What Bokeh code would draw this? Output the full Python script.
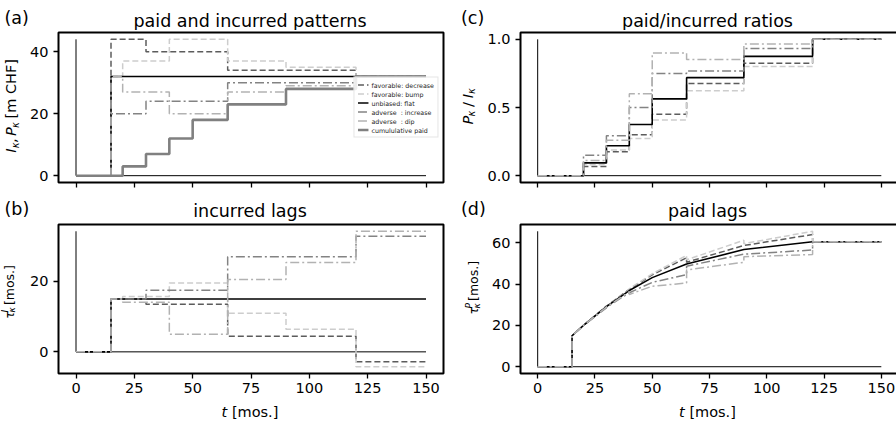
from math import pi, sin, cos
from bokeh.plotting import figure
from bokeh.models import (Range1d, FixedTicker, Label, NumeralTickFormatter,
                          CustomLabelingPolicy)
from bokeh.layouts import column, row
from bokeh.embed import file_html
from bokeh.resources import INLINE

FONT = "DejaVu Sans"

# ---------------- data ----------------
t_edges = [0, 15, 20, 30, 40, 50, 65, 90, 120, 150]   # interval edges [mos.]
x_ticks = [0, 25, 50, 75, 100, 125, 150]

series = ["decrease", "bump", "flat", "increase", "dip"]
legend_text = {
    "decrease": "favorable: decrease",
    "bump": "favorable: bump",
    "flat": "unbiased: flat",
    "increase": "adverse  : increase",
    "dip": "adverse  : dip",
}
paid_legend = "cumululative paid"

# incurred I_k per interval [m CHF]
incurred_decrease = [0, 44, 44, 40, 40, 40, 34, 34, 32]
incurred_bump     = [0, 32, 37, 37, 44, 44, 37, 35, 32]
incurred_flat     = [0, 32, 32, 32, 32, 32, 32, 32, 32]
incurred_increase = [0, 20, 20, 24, 24, 24, 30, 30, 32]
incurred_dip      = [0, 32, 27, 27, 20, 20, 27, 29, 32]
paid_cumulative   = [0, 0, 3, 7, 12, 18, 23, 28, 32]

# paid / incurred ratios per interval
ratio_decrease = [0, 0, 0.068, 0.175, 0.300, 0.450, 0.676, 0.824, 1.0]
ratio_bump     = [0, 0, 0.081, 0.189, 0.273, 0.409, 0.622, 0.800, 1.0]
ratio_flat     = [0, 0, 0.094, 0.219, 0.375, 0.563, 0.719, 0.875, 1.0]
ratio_increase = [0, 0, 0.150, 0.292, 0.500, 0.750, 0.767, 0.933, 1.0]
ratio_dip      = [0, 0, 0.111, 0.259, 0.600, 0.900, 0.852, 0.966, 1.0]

# incurred lags per interval [mos.]
lagI_decrease = [0, 15, 15.00, 13.50, 13.50, 13.50, 4.41, 4.41, -2.81]
lagI_bump     = [0, 15, 15.68, 15.68, 19.55, 19.55, 10.95, 6.43, -4.22]
lagI_flat     = [0, 15, 15.00, 15.00, 15.00, 15.00, 15.00, 15.00, 15.00]
lagI_increase = [0, 15, 15.00, 17.50, 17.50, 17.50, 27.00, 27.00, 32.81]
lagI_dip      = [0, 15, 14.07, 14.07, 5.00, 5.00, 20.56, 25.34, 34.22]

# paid lags: value at start and at end of each interval [mos.]
lagP_decrease_start = [0, 15, 20.00, 29.25, 37.50, 44.50, 50.59, 58.68, 60.47]
lagP_decrease_end   = [0, 20, 29.32, 37.50, 44.50, 52.75, 58.68, 63.97, 60.47]
lagP_bump_start     = [0, 15, 20.00, 29.19, 37.73, 45.00, 51.76, 59.57, 60.47]
lagP_bump_end       = [0, 20, 29.19, 37.30, 45.00, 53.86, 61.22, 65.57, 60.47]
lagP_flat_start     = [0, 15, 20.00, 29.06, 36.88, 43.13, 49.69, 56.72, 60.47]
lagP_flat_end       = [0, 20, 29.06, 36.88, 43.13, 49.69, 56.72, 60.47, 60.47]
lagP_increase_start = [0, 15, 20.00, 28.75, 35.83, 40.83, 48.67, 54.50, 60.47]
lagP_increase_end   = [0, 20, 28.50, 35.83, 40.83, 44.58, 54.50, 56.50, 60.47]
lagP_dip_start      = [0, 15, 20.00, 28.89, 35.00, 39.00, 46.85, 53.28, 60.47]
lagP_dip_end        = [0, 20, 28.89, 36.30, 39.00, 40.50, 50.56, 54.31, 60.47]

incurred = dict(decrease=incurred_decrease, bump=incurred_bump, flat=incurred_flat,
                increase=incurred_increase, dip=incurred_dip)
ratios = dict(decrease=ratio_decrease, bump=ratio_bump, flat=ratio_flat,
              increase=ratio_increase, dip=ratio_dip)
lagI = dict(decrease=lagI_decrease, bump=lagI_bump, flat=lagI_flat,
            increase=lagI_increase, dip=lagI_dip)
lagP = dict(decrease=(lagP_decrease_start, lagP_decrease_end),
            bump=(lagP_bump_start, lagP_bump_end),
            flat=(lagP_flat_start, lagP_flat_end),
            increase=(lagP_increase_start, lagP_increase_end),
            dip=(lagP_dip_start, lagP_dip_end))

# ---------------- styles ----------------
style = {
    "decrease": dict(line_color="#5c5c5c", line_dash="6 3", line_width=1.5),
    "bump":     dict(line_color="#cdcdcd", line_dash="6 3", line_width=1.5),
    "flat":     dict(line_color="black", line_dash="solid", line_width=1.6),
    "increase": dict(line_color="#838383", line_dash="9 3 2 3", line_width=1.5),
    "dip":      dict(line_color="#b2b2b2", line_dash="9 3 2 3", line_width=1.5),
}
paid_style = dict(line_color="#808080", line_width=2.6)

W_L, W_R = 385, 378          # frame widths (left / right column)
H_T, H_B = 150, 149          # frame heights (top / bottom row)
TICK_PX = "14.5px"
TITLE_PX = 17.5


def padded(vals):
    lo, hi = min(vals), max(vals)
    pad = 0.05 * (hi - lo)
    return lo - pad, hi + pad


def make_fig(yvals, yticks, fw, fh, left, right, bottom, xlabels):
    x0, x1 = padded(t_edges)
    y0, y1 = padded(yvals)
    p = figure(frame_width=fw, frame_height=fh, x_range=Range1d(x0, x1),
               y_range=Range1d(y0, y1), output_backend="svg",
               toolbar_location=None, min_border_left=left,
               min_border_right=right, min_border_top=2,
               min_border_bottom=bottom)
    p.grid.visible = False
    p.outline_line_color = "black"
    p.outline_line_width = 2
    p.background_fill_color = "white"
    p.border_fill_color = "white"
    for ax in p.axis:
        ax.axis_line_color = None
        ax.major_tick_in = 0
        ax.major_tick_out = 5
        ax.major_tick_line_width = 1.3
        ax.major_tick_line_color = "black"
        ax.minor_tick_line_color = None
        ax.major_label_text_font = FONT
        ax.major_label_text_font_size = TICK_PX
        ax.major_label_text_color = "black"
        ax.major_label_standoff = 5
    p.xaxis.major_label_standoff = 4
    p.xaxis.ticker = FixedTicker(ticks=x_ticks)
    p.yaxis.ticker = FixedTicker(ticks=yticks)
    if not xlabels:
        p.xaxis.major_label_text_font_size = "0px"
        p.xaxis.major_label_policy = CustomLabelingPolicy(code="return new Set()")
    # thin reference lines at t=0 and y=0
    p.segment(x0=[t_edges[0]], y0=[0], x1=[t_edges[0]], y1=[max(yvals)],
              line_color="black", line_width=1)
    p.segment(x0=[t_edges[0]], y0=[0], x1=[t_edges[-1]], y1=[0],
              line_color="black", line_width=1)
    return p


def strip(w, h):
    p = figure(width=w, height=h, x_range=Range1d(0, w), y_range=Range1d(0, h),
               min_border_left=0, min_border_right=0, min_border_top=0,
               min_border_bottom=0, toolbar_location=None, output_backend="svg",
               x_axis_type=None, y_axis_type=None)
    p.outline_line_color = None
    p.background_fill_color = "white"
    p.border_fill_color = "white"
    p.grid.visible = False
    return p


def lab(p, text, x, y, size, style_="normal", angle=0.0, align="left"):
    # compensate the line-height padding below the alphabetic baseline
    off = 0.2 * size
    x = x - off * sin(angle)
    y = y + off * cos(angle)
    p.add_layout(Label(x=x, y=y, text=text, angle=angle, text_font=FONT,
                       text_font_size=f"{size}px", text_font_style=style_,
                       text_align=align, text_baseline="alphabetic",
                       text_color="black"))


def vlabel(p, pieces, xb, yc):
    total = sum(pc[4] for pc in pieces)
    s = yc - total / 2
    for text, size, st, dx, adv in pieces:
        lab(p, text, xb + dx, s, size, st, angle=pi / 2)
        s += adv


def title_strip(w, h, letter, lx, ly, title, tx, ty):
    p = strip(w, h)
    lab(p, letter, lx, ly, TITLE_PX)
    lab(p, title, tx, ty, TITLE_PX, align="center")
    return p


def xlabel_strip(w, h, cx, y):
    p = strip(w, h)
    x0 = cx - 28.4
    lab(p, "t", x0, y, 14.5, "italic")
    lab(p, "[mos.]", x0 + 10.3, y, 14.5)
    return p


def steps(vals):
    return list(t_edges), list(vals) + [vals[-1]]


LEFT_COL_W = 445
RIGHT_COL_W = 451

# ---------------- (a) paid and incurred patterns ----------------
all_a = [v for k in series for v in incurred[k]] + paid_cumulative
pa = make_fig(all_a, [0, 20, 40], W_L, H_T, 30, 3, 12, False)
for k in series:
    xs, ys = steps(incurred[k])
    pa.step(xs, ys, mode="after", legend_label=legend_text[k], **style[k])
xs, ys = steps(paid_cumulative)
pa.step(xs, ys, mode="after", legend_label=paid_legend, **paid_style)
lg = pa.legend[0]
lg.location = "right"
lg.margin = 5
lg.padding = 3
lg.spacing = 1
lg.glyph_width = 11
lg.glyph_height = 8
lg.label_height = 8
lg.label_standoff = 3
lg.label_text_font = FONT
lg.label_text_font_size = "6.3px"
lg.label_text_color = "#222222"
lg.border_line_color = "#cccccc"
lg.border_line_width = 1
lg.background_fill_alpha = 0.85
ta = title_strip(LEFT_COL_W, 30, "(a)", 4, 9.5, "paid and incurred patterns", 249.5, 6)
ya = strip(27, 164)
vlabel(ya, [("I", 14.5, "italic", 0, 4.8), ("κ", 10, "italic", 3, 5.8),
            (",", 14.5, "normal", 0, 7.6), ("P", 14.5, "italic", 0, 8.8),
            ("κ", 10, "italic", 3, 10.4), ("[m CHF]", 14.5, "normal", 0, 59.4)],
       13.5, 81)

# ---------------- (c) paid/incurred ratios ----------------
all_c = [v for k in series for v in ratios[k]]
pc = make_fig(all_c, [0, 0.5, 1.0], W_R, H_T, 34, 1, 12, False)
pc.yaxis.formatter = NumeralTickFormatter(format="0.0")
for k in series:
    xs, ys = steps(ratios[k])
    pc.step(xs, ys, mode="after", **style[k])
tc = title_strip(RIGHT_COL_W, 30, "(c)", 14.5, 9.5, "paid/incurred ratios", 261, 6)
yc_ = strip(38, 164)
vlabel(yc_, [("P", 14.5, "italic", 0, 8.8), ("κ", 10, "italic", 3, 10.4),
             ("/", 14.5, "normal", 0, 9.5), ("I", 14.5, "italic", 0, 4.8),
             ("κ", 10, "italic", 3, 5.8)],
       24, 83)

# ---------------- (b) incurred lags ----------------
all_b = [v for k in series for v in lagI[k]]
pb = make_fig(all_b, [0, 20], W_L, H_B, 30, 3, 28, True)
for k in series:
    xs, ys = steps(lagI[k])
    pb.step(xs, ys, mode="after", **style[k])
tb = title_strip(LEFT_COL_W, 28, "(b)", 4, 10.5, "incurred lags", 249.5, 8)
yb = strip(27, 179)
vlabel(yb, [("τ", 12.5, "italic", 0, 7.4), ("I", 9, "italic", -5, 0),
            ("κ", 9, "italic", 2.5, 9.0), ("[mos.]", 12.5, "normal", 0, 40.1)],
       11, 94)
xb = xlabel_strip(LEFT_COL_W, 19, 249.5, 6)

# ---------------- (d) paid lags ----------------
all_d = [v for k in series for v in lagP[k][0] + lagP[k][1]]
pd_ = make_fig(all_d, [0, 20, 40, 60], W_R, H_B, 29, 1, 28, True)
for k in series:
    st, en = lagP[k]
    xs, ys = [], []
    for i in range(len(st)):
        xs += [t_edges[i], t_edges[i + 1]]
        ys += [st[i], en[i]]
    pd_.line(xs, ys, **style[k])
td = title_strip(RIGHT_COL_W, 28, "(d)", 14.5, 10.5, "paid lags", 261, 8)
yd = strip(43, 179)
vlabel(yd, [("τ", 12.5, "italic", 0, 7.4), ("P", 9, "italic", -5, 0),
            ("κ", 9, "italic", 2.5, 9.0), ("[mos.]", 12.5, "normal", 0, 40.1)],
       29.5, 99)
xd = xlabel_strip(RIGHT_COL_W, 19, 261, 6)

left_col = column(ta, row(ya, pa), tb, row(yb, pb), xb)
right_col = column(tc, row(yc_, pc), td, row(yd, pd_), xd)
layout = row(left_col, right_col)
open("out.html", "w").write(file_html(layout, INLINE))
